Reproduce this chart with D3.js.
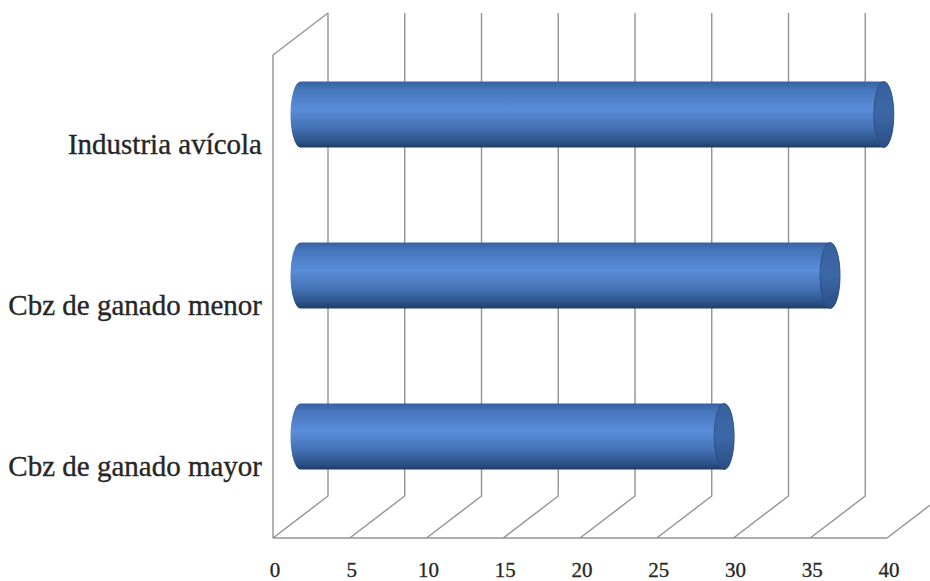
<html>

<head>
  <style>
    body {
      margin: 0;
      background-color: #ffffff;
    }
  </style>

  <!-- load the d3.js library -->
  <script src="https://d3js.org/d3.v7.min.js"></script>
</head>

<body>
  <div id="chart-container"></div>

  <script>
    // categories from top to bottom
    const categories = ["Industria avícola", "Cbz de ganado menor", "Cbz de ganado mayor"];
    const values = [38, 34.5, 27.6];
    const tickValues = [0, 5, 10, 15, 20, 25, 30, 35, 40];

    const width = 930,
      height = 581;

    // front plane of the 3d box
    const front = { left: 273, right: 887, top: 55, bottom: 538 };
    // depth offset of the back wall
    const depth = { dx: 55, dy: -42 };

    const svg = d3.select("#chart-container")
      .append("svg")
      .attr("id", "chart")
      .attr("width", width)
      .attr("height", height);

    const x = d3.scaleLinear()
      .domain([0, 40])
      .range([front.left, front.right]);

    const y = d3.scaleBand()
      .domain(categories)
      .range([front.top, front.bottom])
      .padding(0);

    // gradient for the cylinder body
    const defs = svg.append("defs");
    const grad = defs.append("linearGradient")
      .attr("id", "cyl")
      .attr("x1", 0).attr("y1", 0)
      .attr("x2", 0).attr("y2", 1);
    [
      [0, "#3760a0"],
      [0.12, "#4676bb"],
      [0.42, "#5a8dda"],
      [0.7, "#4472b5"],
      [0.9, "#2e558c"],
      [1, "#203c66"]
    ].forEach(s => grad.append("stop").attr("offset", s[0]).attr("stop-color", s[1]));

    const capGrad = defs.append("linearGradient")
      .attr("id", "cap")
      .attr("x1", 0).attr("y1", 0)
      .attr("x2", 0).attr("y2", 1);
    [
      [0, "#38619e"],
      [0.5, "#3c67a6"],
      [1, "#2a4d84"]
    ].forEach(s => capGrad.append("stop").attr("offset", s[0]).attr("stop-color", s[1]));

    const grid = svg.append("g")
      .attr("stroke", "#939393")
      .attr("stroke-width", 1.4)
      .attr("fill", "none");

    // left wall
    grid.append("path")
      .attr("d", `M${x(0)},${front.bottom} L${x(0)},${front.top} L${x(0) + depth.dx},${front.top + depth.dy}`);

    // back wall verticals + floor diagonals
    tickValues.forEach(t => {
      grid.append("path")
        .attr("d", `M${x(t) + depth.dx},${front.top + depth.dy} L${x(t) + depth.dx},${front.bottom + depth.dy} L${x(t)},${front.bottom}`);
    });

    // front floor edge
    grid.append("line")
      .attr("x1", x(0)).attr("x2", x(40))
      .attr("y1", front.bottom).attr("y2", front.bottom);

    // tick labels
    svg.append("g")
      .selectAll("text")
      .data(tickValues)
      .enter()
      .append("text")
      .attr("x", d => x(d) + 2)
      .attr("y", 577)
      .attr("text-anchor", "middle")
      .attr("font-family", "'Liberation Serif', serif")
      .attr("font-size", 21)
      .attr("fill", "#262626")
      .attr("stroke", "#262626")
      .attr("stroke-width", 0.3)
      .text(d => d);

    // category labels
    svg.append("g")
      .selectAll("text")
      .data(categories)
      .enter()
      .append("text")
      .attr("x", 262)
      .attr("y", d => y(d) + y.bandwidth() / 2 + 8)
      .attr("text-anchor", "end")
      .attr("dominant-baseline", "central")
      .attr("font-family", "'Liberation Serif', serif")
      .attr("font-size", 29)
      .attr("fill", "#262626")
      .attr("stroke", "#262626")
      .attr("stroke-width", 0.35)
      .text(d => d);

    // cylinders sit at half depth
    const ry = 33, rx = 10;
    const bars = svg.append("g")
      .selectAll("g")
      .data(categories.map((c, i) => ({ cat: c, value: values[i] })))
      .enter()
      .append("g");

    bars.append("path")
      .attr("fill", "url(#cyl)")
      .attr("d", d => {
        const cy = y(d.cat) + y.bandwidth() / 2 + depth.dy / 2;
        const x0 = x(0) + depth.dx / 2;
        const x1 = x(d.value) + depth.dx / 2;
        return `M${x0},${cy - ry} L${x1},${cy - ry} A${rx},${ry} 0 0 1 ${x1},${cy + ry} L${x0},${cy + ry} A${rx},${ry} 0 0 1 ${x0},${cy - ry} Z`;
      });

    bars.append("ellipse")
      .attr("cx", d => x(d.value) + depth.dx / 2)
      .attr("cy", d => y(d.cat) + y.bandwidth() / 2 + depth.dy / 2)
      .attr("rx", rx)
      .attr("ry", ry)
      .attr("fill", "url(#cap)")
      .attr("stroke", "#2a4c80")
      .attr("stroke-width", 0.8);
  </script>
</body>

</html>
